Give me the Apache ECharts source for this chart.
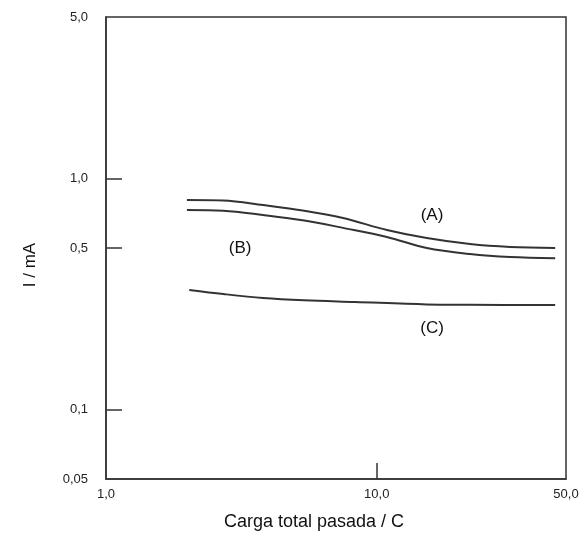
<!DOCTYPE html>
<html>
<head>
<meta charset="utf-8">
<script src="https://cdn.jsdelivr.net/npm/echarts@6/dist/echarts.min.js"></script>
<style>html,body{margin:0;padding:0;background:#fff}#c{width:583px;height:535px}</style>
</head>
<body>
<div id="c"></div>
<script>
var xTicks = [1, 10, 50];
var yTicks = [0.05, 0.1, 0.5, 1, 5];
var seriesA = [[1.99,0.807],[2.71,0.803],[3.80,0.767],[5.4,0.725],[7.51,0.674],[10.9,0.598],[15.3,0.552],[22.1,0.520],[31.1,0.505],[45.6,0.500]];
var seriesB = [[1.99,0.730],[2.71,0.725],[3.80,0.695],[5.4,0.658],[7.51,0.611],[10.9,0.558],[15.3,0.500],[22.1,0.471],[31.1,0.457],[45.6,0.452]];
var seriesC = [[2.03,0.329],[2.71,0.316],[3.80,0.304],[5.4,0.297],[8.3,0.292],[15.3,0.285],[22.1,0.284],[45.6,0.283]];
var curveLabels = [['(A)', 16.0, 0.695], ['(B)', 3.13, 0.50], ['(C)', 16.0, 0.225]];

function fmt(v){ return (v >= 1 ? v.toFixed(1) : String(v)).replace('.', ','); }

var chart = echarts.init(document.getElementById('c'));
var lineStyle = {color:'#333', width:2};
chart.setOption({
  animation:false,
  grid:{left:106, right:17, top:17, bottom:56, show:true, borderColor:'#333', borderWidth:1.5, backgroundColor:'transparent'},
  xAxis:{type:'log', logBase:10, min:1, max:50,
    axisLine:{show:true, lineStyle:{color:'#333', width:1.5}},
    axisTick:{show:true, inside:true, length:16, lineStyle:{color:'#333', width:1.5}, customValues:[10]},
    axisLabel:{customValues:xTicks, formatter:function(v){return fmt(v);}, color:'#222', fontSize:13, fontFamily:'Liberation Sans', margin:9},
    splitLine:{show:false}, minorTick:{show:false}},
  yAxis:{type:'log', logBase:10, min:0.05, max:5,
    axisLine:{show:true, lineStyle:{color:'#333', width:1.5}},
    axisTick:{show:true, inside:true, length:16, lineStyle:{color:'#333', width:1.5}, customValues:[0.1,0.5,1]},
    axisLabel:{customValues:yTicks, formatter:function(v){return fmt(v);}, color:'#222', fontSize:13, fontFamily:'Liberation Sans', margin:18},
    splitLine:{show:false}, minorTick:{show:false}},
  series:[
    {type:'line', data:seriesA, smooth:0.35, showSymbol:false, lineStyle:lineStyle},
    {type:'line', data:seriesB, smooth:0.35, showSymbol:false, lineStyle:lineStyle},
    {type:'line', data:seriesC, smooth:0.35, showSymbol:false, lineStyle:lineStyle}
  ]
});
var g = [];
curveLabels.forEach(function(l){
  var p = chart.convertToPixel({gridIndex:0}, [l[1], l[2]]);
  g.push({type:'text', x:p[0], y:p[1], style:{text:l[0], fill:'#111', font:'17px "Liberation Sans"', align:'center', verticalAlign:'middle'}});
});
g.push({type:'text', x:314, y:522, style:{text:'Carga total pasada / C', fill:'#111', font:'18px "Liberation Sans"', align:'center', verticalAlign:'middle'}});
g.push({type:'text', x:30, y:265, rotation:Math.PI/2, style:{text:'I / mA', fill:'#111', font:'17px "Liberation Sans"', align:'center', verticalAlign:'middle'}});
chart.setOption({graphic:g});
</script>
</body>
</html>
